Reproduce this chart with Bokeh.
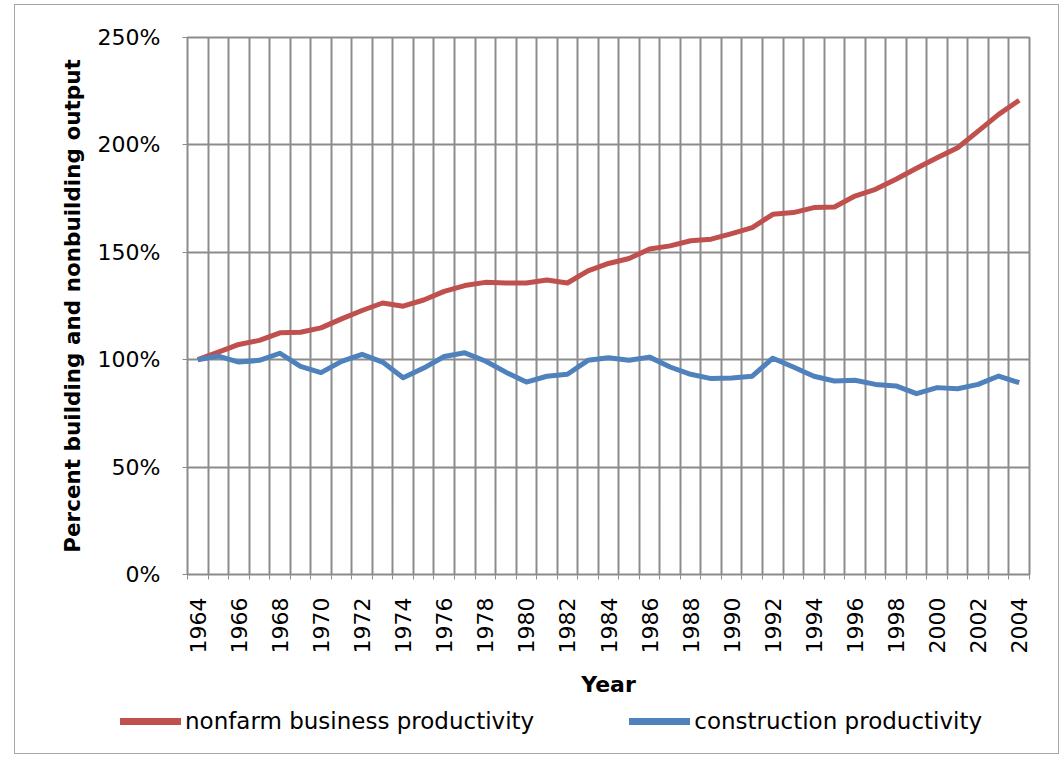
from bokeh.plotting import figure
from bokeh.models import (FixedTicker, PrintfTickFormatter, Range1d, Legend, LegendItem, Grid)
from bokeh.embed import file_html
from bokeh.resources import INLINE
import math

# ---- data ----
years = list(range(1964, 2005))
nonfarm = [100, 103.5, 107.1, 109, 112.5, 112.8, 114.8, 119, 122.9, 126.4,
           124.9, 127.8, 131.8, 134.5, 136, 135.7, 135.7, 137.1, 135.7, 141.4, 144.8,
           147.1, 151.5, 153, 155.4, 156.1, 158.7, 161.5, 167.7, 168.5, 170.8,
           171.1, 176.2, 179.3, 184, 189.1, 194, 198.7, 206.4, 214.2, 220.8]
construction = [100, 101.7, 98.9, 99.7, 103, 96.9, 94, 99.2, 102.5, 98.9,
                91.6, 96.1, 101.5, 103.2, 99.4, 94.2, 89.6, 92.3, 93.2, 99.7, 100.9,
                99.7, 101.2, 96.6, 93.2, 91.2, 91.5, 92.3, 100.7, 96.6, 92.3,
                90.1, 90.4, 88.5, 87.8, 84.2, 87, 86.5, 88.5, 92.4, 89.3]
year_labels = years[::2]
y_ticks = [0, 50, 100, 150, 200, 250]
series_names = ["nonfarm business productivity", "construction productivity"]
series_colors = ["#C0504D", "#4F81BD"]

FONT = "DejaVu Sans"
GRID = "#8c8c8c"
BORDER = "1px solid #a6a6a6"
W = 1045

p = figure(width=W, height=695, output_backend="svg", toolbar_location=None,
           x_range=Range1d(years[0] - 0.5, years[-1] + 0.5),
           y_range=Range1d(y_ticks[0], y_ticks[-1]),
           min_border_left=172, min_border_right=W - 172 - 842, min_border_top=32,
           min_border_bottom=126,
           styles={"margin-left": "14px", "margin-top": "4px",
                   "border": BORDER, "border-bottom": "none"})

p.outline_line_color = GRID
p.outline_line_width = 2
p.background_fill_color = "white"
p.border_fill_color = "white"

# grids
p.xgrid.visible = False
p.ygrid.ticker = FixedTicker(ticks=y_ticks)
p.ygrid.grid_line_color = GRID
p.ygrid.grid_line_width = 2
boundaries = [y - 0.5 for y in years] + [years[-1] + 0.5]
vgrid = Grid(dimension=0, ticker=FixedTicker(ticks=boundaries),
             grid_line_color=GRID, grid_line_width=2)
p.add_layout(vgrid)

# x axis
xa = p.xaxis[0]
xa.ticker = FixedTicker(ticks=year_labels, minor_ticks=boundaries)
xa.major_label_orientation = math.pi / 2
xa.major_tick_out = 0
xa.major_tick_in = 0
xa.minor_tick_out = 5
xa.minor_tick_in = 0
xa.minor_tick_line_color = GRID
xa.axis_line_color = None
xa.major_label_standoff = 18
xa.major_label_text_font = FONT
xa.major_label_text_font_size = "22px"
xa.major_label_text_color = "black"
xa.axis_label = "Year"
xa.axis_label_text_font = FONT
xa.axis_label_text_font_style = "bold"
xa.axis_label_text_font_size = "22px"
xa.axis_label_standoff = 16
xa.axis_label_text_color = "black"

# y axis
ya = p.yaxis[0]
ya.ticker = FixedTicker(ticks=y_ticks)
ya.formatter = PrintfTickFormatter(format="%d%%")
ya.major_tick_out = 5
ya.major_tick_in = 0
ya.minor_tick_out = 0
ya.minor_tick_in = 0
ya.major_tick_line_color = GRID
ya.axis_line_color = None
ya.major_label_standoff = 22
ya.major_label_text_font = FONT
ya.major_label_text_font_size = "22px"
ya.major_label_text_color = "black"
ya.axis_label = "Percent building and nonbuilding output"
ya.axis_label_text_font = FONT
ya.axis_label_text_font_style = "bold"
ya.axis_label_text_font_size = "21.5px"
ya.axis_label_standoff = 10
ya.axis_label_text_color = "black"

p.line(years, nonfarm, line_color=series_colors[0], line_width=5, line_join="round")
p.line(years, construction, line_color=series_colors[1], line_width=5, line_join="round")

# legend strip below the chart (series drawn off-range so only the legend shows)
p2 = figure(width=W, height=55, output_backend="svg", toolbar_location=None,
            x_range=Range1d(years[0] - 0.5, years[-1] + 0.5),
            y_range=Range1d(1000, 1001), x_axis_type=None, y_axis_type=None,
            min_border=0,
            styles={"margin-left": "14px", "border": BORDER, "border-top": "none"})
p2.outline_line_color = None
p2.grid.visible = False
r1 = p2.line(years, nonfarm, line_color=series_colors[0], line_width=7, line_cap="round")
r2 = p2.line(years, construction, line_color=series_colors[1], line_width=7, line_cap="round")

legend = Legend(items=[LegendItem(label=series_names[0], renderers=[r1]),
                       LegendItem(label=series_names[1], renderers=[r2])],
                orientation="horizontal", location=(105, 20),
                glyph_width=61, glyph_height=26, label_standoff=4, spacing=95,
                padding=0, margin=0, border_line_color=None,
                background_fill_alpha=0,
                label_text_font=FONT, label_text_font_size="23px",
                label_text_color="black")
p2.add_layout(legend, "center")

open("out.html", "w").write(file_html([p, p2], INLINE))
